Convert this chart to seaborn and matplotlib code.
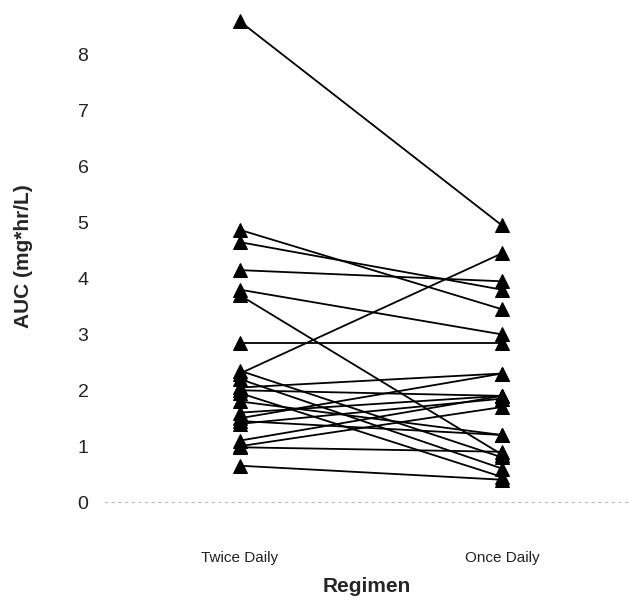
import pandas as pd
import matplotlib.pyplot as plt
import seaborn as sns

# AUC values, one pair per subject
regimens = ['Twice Daily', 'Once Daily']
twice_daily = [8.6, 4.87, 4.65, 4.15, 3.8, 3.7, 2.85, 2.3, 2.35, 2.2, 2.05,
               2.0, 1.95, 1.8, 1.6, 1.5, 1.45, 1.4, 1.1, 1.0, 0.98, 0.65]
once_daily = [4.95, 3.45, 3.8, 3.95, 3.0, 0.85, 2.85, 4.45, 0.8, 0.6, 2.3,
              1.9, 0.45, 1.2, 1.9, 2.3, 1.2, 1.85, 1.9, 1.7, 0.9, 0.4]
y_ticks = [0, 1, 2, 3, 4, 5, 6, 7, 8]

rows = []
for i, (a, b) in enumerate(zip(twice_daily, once_daily)):
    rows.append({'subject': i, 'Regimen': regimens[0], 'AUC': a})
    rows.append({'subject': i, 'Regimen': regimens[1], 'AUC': b})
df = pd.DataFrame(rows)

sns.set_style('white')
plt.rcParams['font.family'] = ['Liberation Sans', 'DejaVu Sans']

fig = plt.figure(figsize=(6.29, 6.02), dpi=100)
ax = fig.add_axes([0.167, 0.166, 0.833, 0.817])

sns.lineplot(data=df, x='Regimen', y='AUC', units='subject', estimator=None,
             sort=False, color='black', lw=1.3, marker='^', markersize=10,
             markeredgecolor='black', markerfacecolor='black', ax=ax)

ax.set_xlim(-0.515, 1.485)
ax.set_ylim(0, 8.8)
ax.set_yticks(y_ticks)
ax.set_yticklabels([str(t) for t in y_ticks], fontsize=14, color='#222222')
ax.tick_params(axis='x', labelsize=11, pad=35, length=0, colors='#222222')
ax.tick_params(axis='y', pad=12, length=0)

for side in ['top', 'right', 'left']:
    ax.spines[side].set_visible(False)
ax.spines['bottom'].set_color('#bbbbbb')
ax.spines['bottom'].set_linestyle((0, (2, 4)))
ax.spines['bottom'].set_linewidth(0.8)

ax.set_xlabel('Regimen', fontsize=15, fontweight='bold', labelpad=9)
ax.set_ylabel('AUC (mg*hr/L)', fontsize=15, fontweight='bold', labelpad=32)

fig.savefig('out.png', dpi=100)
